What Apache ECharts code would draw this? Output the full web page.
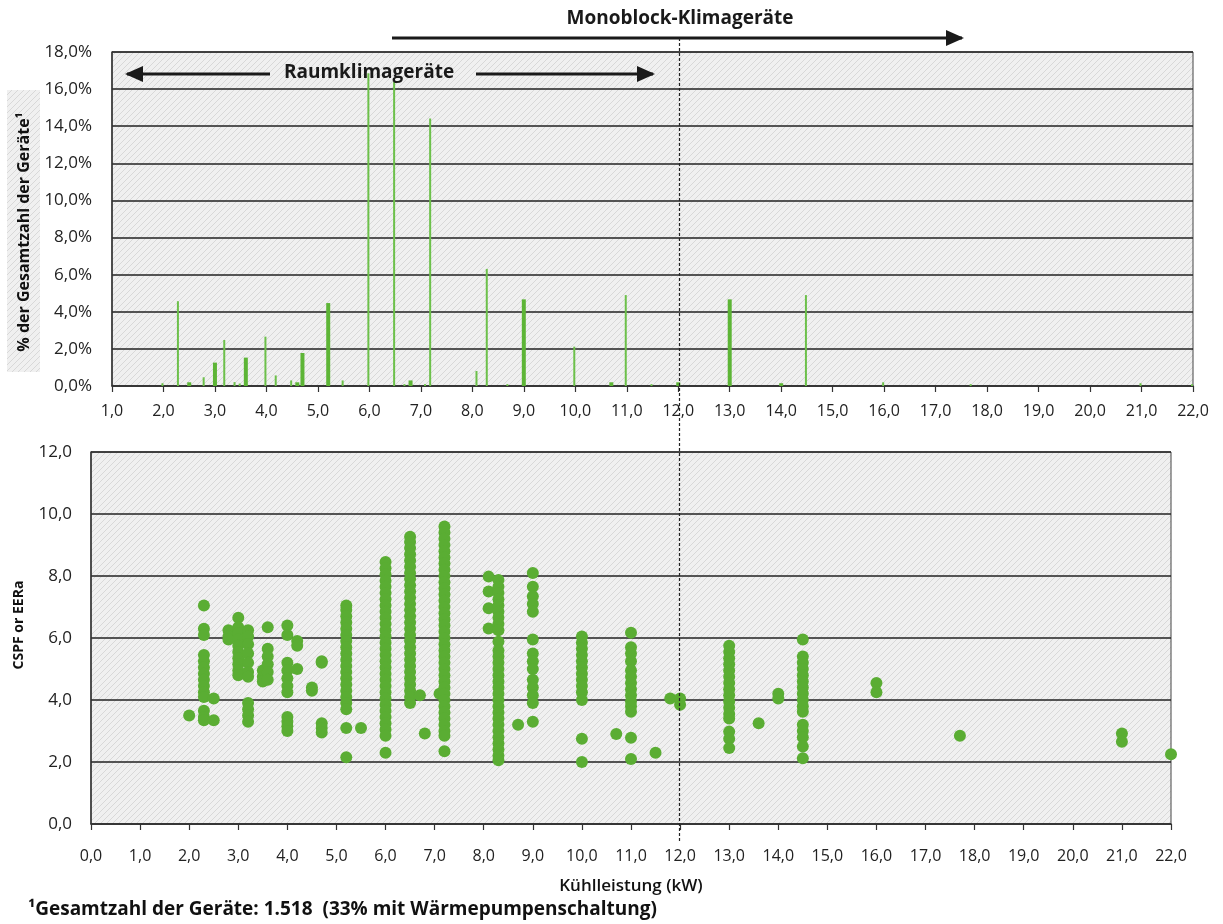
<!DOCTYPE html>
<html>
<head>
<meta charset="utf-8">
<script src="https://cdn.jsdelivr.net/npm/echarts@6/dist/echarts.min.js"></script>
<style>
html,body{margin:0;padding:0;background:#fff;}
#chart{width:1223px;height:924px;}
</style>
</head>
<body>
<div id="chart"></div>
<script>
//Anteil der Geräte je Kühlleistung (oben), dünne und breite Balken
var balkenDuennKw = [2.0, 2.3, 2.8, 3.2, 3.4, 3.5, 4.0, 4.2, 4.5, 5.5, 6.0, 6.5, 6.7, 7.1, 7.2, 8.1, 8.3, 8.7, 10.0, 11.0, 11.5, 14.5, 16.0, 17.7, 21.0, 22.0];
var balkenDuennAnteil = [0.15, 4.57, 0.47, 2.48, 0.21, 0.13, 2.66, 0.57, 0.3, 0.3, 16.85, 16.4, 0.1, 0.1, 14.41, 0.81, 6.31, 0.1, 2.12, 4.9, 0.1, 4.9, 0.2, 0.1, 0.15, 0.1];
var balkenBreitKw = [2.5, 3.0, 3.6, 4.6, 4.7, 5.2, 6.8, 9.0, 10.7, 12.0, 13.0, 14.0];
var balkenBreitAnteil = [0.2, 1.26, 1.53, 0.2, 1.78, 4.47, 0.3, 4.67, 0.2, 0.2, 4.67, 0.15];

//CSPF / EERa je Kühlleistung (unten), eine Spalte je kW-Wert
var spaltenKw = [2.0, 2.3, 2.5, 2.8, 3.0, 3.2, 3.5, 3.6, 4.0, 4.2, 4.5, 4.7, 5.2, 5.5, 6.0, 6.5, 6.7, 6.8, 7.1, 7.2, 8.1, 8.3, 8.7, 9.0, 10.0, 10.7, 11.0, 11.5, 11.8, 12.0, 13.0, 13.6, 14.0, 14.5, 16.0, 17.7, 21.0, 22.0];
var spaltenWerte = [
	[3.5],
	[7.05, 6.3, 6.1, 5.45, 5.25, 5.05, 4.85, 4.65, 4.45, 4.25, 4.1, 3.65, 3.45, 3.35],
	[4.05, 3.35],
	[6.25, 6.05, 5.95],
	[6.65, 6.35, 6.15, 5.95, 5.75, 5.55, 5.35, 5.15, 4.95, 4.8],
	[6.25, 6.05, 5.8, 5.5, 5.2, 4.9, 4.75, 3.9, 3.7, 3.5, 3.3],
	[4.95, 4.75, 4.6],
	[6.35, 5.65, 5.4, 5.15, 4.9, 4.65],
	[6.4, 6.1, 5.2, 4.95, 4.7, 4.45, 4.25, 3.45, 3.3, 3.15, 3.0],
	[5.9, 5.75, 5.0],
	[4.4, 4.3],
	[5.25, 5.2, 3.25, 3.1, 2.95],
	[7.05, 6.9, 6.7, 6.5, 6.3, 6.1, 5.9, 5.7, 5.5, 5.3, 5.1, 4.9, 4.7, 4.5, 4.3, 4.1, 3.9, 3.7, 3.1, 2.15],
	[3.1],
	[8.45, 8.25, 8.05, 7.85, 7.65, 7.45, 7.25, 7.05, 6.85, 6.65, 6.45, 6.25, 6.05, 5.85, 5.65, 5.45, 5.25, 5.05, 4.85, 4.65, 4.45, 4.25, 4.05, 3.85, 3.65, 3.45, 3.25, 3.05, 2.85, 2.3],
	[9.27, 9.1, 8.9, 8.7, 8.5, 8.3, 8.1, 7.9, 7.7, 7.5, 7.3, 7.1, 6.9, 6.7, 6.5, 6.3, 6.1, 5.9, 5.7, 5.5, 5.3, 5.1, 4.9, 4.7, 4.5, 4.3, 4.1, 3.9],
	[4.15],
	[2.92],
	[4.2],
	[9.6, 9.4, 9.2, 9.0, 8.8, 8.6, 8.4, 8.2, 8.0, 7.8, 7.6, 7.4, 7.2, 7.0, 6.8, 6.6, 6.4, 6.2, 6.0, 5.8, 5.6, 5.4, 5.2, 5.0, 4.8, 4.6, 4.4, 4.2, 4.0, 3.8, 3.6, 3.4, 3.2, 3.0, 2.85, 2.35],
	[7.98, 7.5, 6.96, 6.31],
	[7.87, 7.65, 7.45, 7.25, 7.05, 6.85, 6.65, 6.45, 6.25, 5.88, 5.6, 5.4, 5.2, 5.0, 4.8, 4.6, 4.4, 4.2, 4.0, 3.8, 3.6, 3.4, 3.2, 3.0, 2.8, 2.6, 2.4, 2.2, 2.06],
	[3.2],
	[8.1, 7.65, 7.35, 7.1, 6.85, 5.95, 5.5, 5.25, 5.0, 4.65, 4.4, 4.15, 3.9, 3.3],
	[6.05, 5.85, 5.65, 5.45, 5.25, 5.05, 4.85, 4.65, 4.45, 4.25, 4.0, 2.75, 2.0],
	[2.9],
	[6.17, 5.7, 5.5, 5.25, 4.95, 4.75, 4.55, 4.35, 4.15, 3.95, 3.8, 3.62, 2.78, 2.1],
	[2.3],
	[4.05],
	[4.05, 3.85],
	[5.75, 5.55, 5.35, 5.15, 4.95, 4.75, 4.55, 4.35, 4.15, 3.95, 3.75, 3.55, 3.4, 2.98, 2.75, 2.45],
	[3.25],
	[4.2, 4.05],
	[5.95, 5.4, 5.2, 5.0, 4.8, 4.6, 4.4, 4.2, 4.0, 3.8, 3.62, 3.2, 3.0, 2.8, 2.5, 2.12],
	[4.55, 4.25],
	[2.85],
	[2.92, 2.65],
	[2.25]
];

var grenzeKw = 12;
var schrift = '"Open Sans", "Noto Sans", sans-serif';

//schraffierter Hintergrund
function schraffur() {
	var c = document.createElement('canvas');
	c.width = 6;
	c.height = 6;
	var g = c.getContext('2d');
	g.fillStyle = '#f0f0f0';
	g.fillRect(0, 0, 6, 6);
	g.strokeStyle = '#d8d8d8';
	g.lineWidth = 1;
	g.beginPath();
	g.moveTo(0, 6); g.lineTo(6, 0);
	g.moveTo(-1, 1); g.lineTo(1, -1);
	g.moveTo(5, 7); g.lineTo(7, 5);
	g.stroke();
	return { image: c, repeat: 'repeat' };
}
var muster = schraffur();

function komma(v, n) {
	return v.toFixed(n).replace('.', ',');
}
function paare(xs, ys) {
	var r = [];
	for(var i = 0; i < xs.length; i++) {
		r.push([xs[i], ys[i]]);
	}
	return r;
}
var punkte = [];
for(var i = 0; i < spaltenKw.length; i++) {
	for(var j = 0; j < spaltenWerte[i].length; j++) {
		punkte.push([spaltenKw[i], spaltenWerte[i][j]]);
	}
}

var achseX = {
	type: 'value',
	interval: 1,
	max: 22,
	axisLine: { show: true, onZero: false, lineStyle: { color: '#333', width: 1.5 } },
	axisTick: { show: true, length: 6, lineStyle: { color: '#333', width: 1.2 } },
	splitLine: { show: false },
	axisLabel: { fontFamily: schrift, fontSize: 16, color: '#222', formatter: function(v) { return komma(v, 1) } }
};
var achseY = {
	type: 'value',
	min: 0,
	interval: 2,
	axisLine: { show: true, lineStyle: { color: '#333', width: 1.5 } },
	axisTick: { show: false },
	splitLine: { show: true, lineStyle: { color: '#222', width: 1.5 } }
};

var option = {
	animation: false,
	backgroundColor: '#fff',
	grid: [
		{ left: 112, right: 30, top: 52, height: 334, show: true, backgroundColor: muster, borderColor: '#444', borderWidth: 1 },
		{ left: 91, right: 52, top: 452, height: 372, show: true, backgroundColor: muster, borderColor: '#444', borderWidth: 1 }
	],
	xAxis: [
		echarts.util.merge({ gridIndex: 0, min: 1, axisLabel: { margin: 17 } }, achseX, false),
		echarts.util.merge({ gridIndex: 1, min: 0, axisLabel: { margin: 24 } }, achseX, false)
	],
	yAxis: [
		echarts.util.merge({ gridIndex: 0, max: 18, axisLabel: { fontFamily: schrift, fontSize: 17, color: '#222', margin: 20, formatter: function(v) { return komma(v, 1) + '%' } } }, achseY, false),
		echarts.util.merge({ gridIndex: 1, max: 12, axisLabel: { fontFamily: schrift, fontSize: 17, color: '#222', margin: 19, formatter: function(v) { return komma(v, 1) } } }, achseY, false)
	],
	series: [
		{
			type: 'bar',
			xAxisIndex: 0,
			yAxisIndex: 0,
			barWidth: 2,
			barGap: '-100%',
			itemStyle: { color: '#6cc04a' },
			data: paare(balkenDuennKw, balkenDuennAnteil)
		},
		{
			type: 'bar',
			xAxisIndex: 0,
			yAxisIndex: 0,
			barWidth: 4,
			barGap: '-100%',
			itemStyle: { color: '#5db536' },
			data: paare(balkenBreitKw, balkenBreitAnteil)
		},
		{
			type: 'scatter',
			xAxisIndex: 1,
			yAxisIndex: 1,
			symbolSize: 12,
			itemStyle: { color: '#5aad33', opacity: 1 },
			data: punkte
		}
	]
};

var myChart = echarts.init(document.getElementById('chart'), null, { renderer: 'canvas' });
myChart.setOption(option);

//Trennlinie bei 12 kW und Beschriftungen
var xa = myChart.convertToPixel({ xAxisIndex: 0 }, grenzeKw);
var xb = myChart.convertToPixel({ xAxisIndex: 1 }, grenzeKw);
var xl = Math.round((xa + xb) / 2) + 0.5;

function pfeil(x1, x2, y, links, rechts) {
	var teile = [{
		type: 'line',
		shape: { x1: x1, y1: y, x2: x2, y2: y },
		style: { stroke: '#1a1a1a', lineWidth: 3 }
	}];
	if(links) {
		teile.push({ type: 'polygon', shape: { points: [[x1 - 2, y], [x1 + 16, y - 8], [x1 + 16, y + 8]] }, style: { fill: '#1a1a1a' } });
	}
	if(rechts) {
		teile.push({ type: 'polygon', shape: { points: [[x2 + 2, y], [x2 - 16, y - 8], [x2 - 16, y + 8]] }, style: { fill: '#1a1a1a' } });
	}
	return teile;
}

var grafik = [
	{
		type: 'line',
		z: 50,
		shape: { x1: xl, y1: 38, x2: xl, y2: 842 },
		style: { stroke: '#222', lineWidth: 1.2, lineDash: [3, 2] }
	},
	{
		type: 'rect',
		shape: { x: 7, y: 90, width: 33, height: 282 },
		style: { fill: muster }
	},
	{
		type: 'text',
		x: 24, y: 232,
		rotation: Math.PI / 2,
		style: { text: '% der Gesamtzahl der Geräte¹', font: 'bold 16px ' + schrift, fill: '#111', align: 'center', verticalAlign: 'middle' }
	},
	{
		type: 'text',
		x: 19, y: 625,
		rotation: Math.PI / 2,
		style: { text: 'CSPF or EERa', font: 'bold 14px ' + schrift, fill: '#111', align: 'center', verticalAlign: 'middle' }
	},
	{
		type: 'text',
		x: 631, y: 886,
		style: { text: 'Kühlleistung (kW)', font: '600 17px ' + schrift, fill: '#111', align: 'center', verticalAlign: 'middle' }
	},
	{
		type: 'text',
		x: 28, y: 910,
		style: { text: '¹Gesamtzahl der Geräte: 1.518  (33% mit Wärmepumpenschaltung)', font: 'bold 19px ' + schrift, fill: '#111', align: 'left', verticalAlign: 'middle' }
	},
	{
		type: 'text',
		x: 680, y: 19,
		style: { text: 'Monoblock-Klimageräte', font: 'bold 19px ' + schrift, fill: '#1a1a1a', align: 'center', verticalAlign: 'middle' }
	},
	{
		type: 'text',
		x: 369, y: 73,
		z: 60,
		style: { text: 'Raumklimageräte', font: 'bold 19px ' + schrift, fill: '#1a1a1a', align: 'center', verticalAlign: 'middle' }
	}
].concat(pfeil(392, 962, 38, false, true)).concat(pfeil(127, 270, 74, true, false)).concat(pfeil(476, 653, 74, false, true));

myChart.setOption({ graphic: grafik });
</script>
</body>
</html>
